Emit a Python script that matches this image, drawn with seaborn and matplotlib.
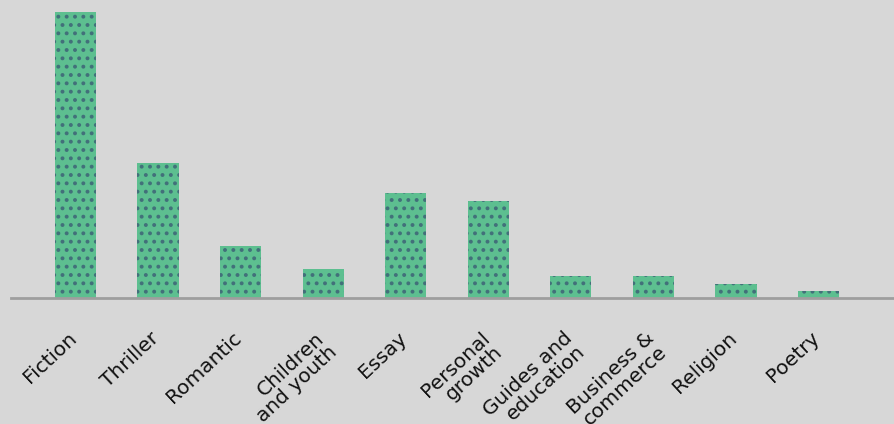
import matplotlib
matplotlib.use("Agg")
import matplotlib.pyplot as plt
import matplotlib.transforms as mtransforms
import seaborn as sns
import pandas as pd

categories = ["Fiction", "Thriller", "Romantic", "Children\nand youth", "Essay",
              "Personal\ngrowth", "Guides and\neducation", "Business &\ncommerce",
              "Religion", "Poetry"]
values = [28.6, 13.5, 5.2, 2.9, 10.5, 9.7, 2.2, 2.2, 1.4, 0.7]

sns.set_theme(style="white")
plt.rcParams['font.family'] = ['DejaVu Sans']
plt.rcParams['hatch.linewidth'] = 1.6

BG = "#d7d7d7"
fig = plt.figure(figsize=(8.94, 4.24), dpi=100, facecolor=BG)
ax = fig.add_axes([11/894, (424-298)/424, 883/894, 298/424])
ax.set_facecolor(BG)

df = pd.DataFrame({"cat": categories, "val": values})
sns.barplot(data=df, x="cat", y="val", ax=ax, color="#5dbf90", width=0.5,
            saturation=1, linewidth=0)
for p in ax.patches:
    p.set_hatch("..")
    p.set_edgecolor("#42707a")
    p.set_linewidth(0)

ax.set_xlim(-0.781, 9.914)
ax.set_ylim(0, 29.8)
ax.set_xlabel("")
ax.set_ylabel("")
ax.set_yticks([])
for s in ["top", "right", "left"]:
    ax.spines[s].set_visible(False)
ax.spines["bottom"].set_color("#9e9e9e")
ax.spines["bottom"].set_linewidth(2)
ax.tick_params(axis="x", length=0, pad=22)
ax.set_xticks(range(len(categories)))
ax.set_xticklabels(categories, rotation=43, ha="right", rotation_mode="anchor",
                   fontsize=14.5, color="#111111", multialignment="right",
                   linespacing=0.98)
offset = mtransforms.ScaledTranslation(-8/100, 0, fig.dpi_scale_trans)
for t in ax.xaxis.get_major_ticks():
    t.label1.set_va("top")
    t.label1.set_transform(t.label1.get_transform() + offset)

fig.savefig("out.png", dpi=100, facecolor=BG)
